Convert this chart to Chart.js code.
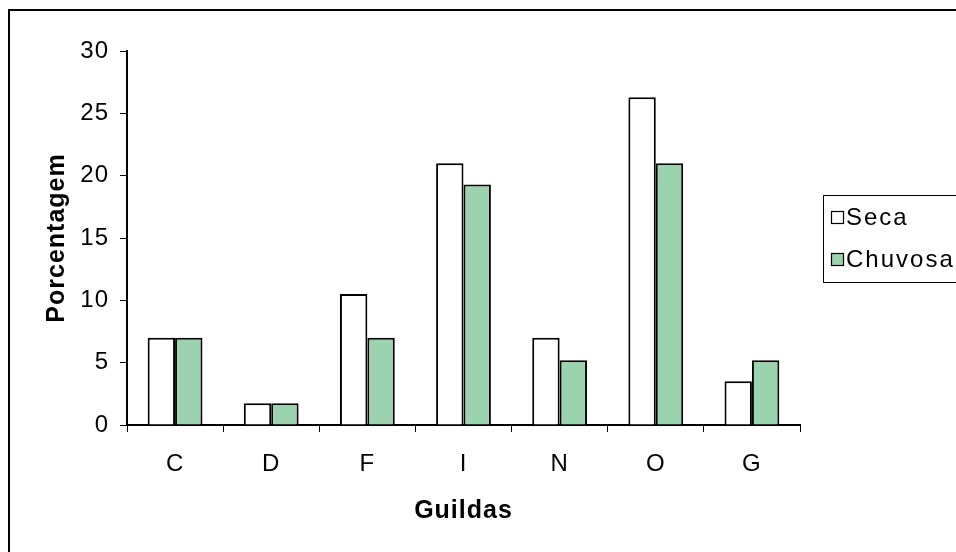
<!DOCTYPE html>
<html>
<head>
<meta charset="utf-8">
<script src="https://cdn.jsdelivr.net/npm/chart.js@4/dist/chart.umd.min.js"></script>
<style>
html,body{margin:0;padding:0;background:#fff;}
#wrap{width:956px;height:552px;position:relative;}
</style>
</head>
<body>
<div id="wrap"><canvas id="c" width="956" height="552"></canvas></div>
<script>
const categories = ['C', 'D', 'F', 'I', 'N', 'O', 'G'];
const seca = [7.0, 1.75, 10.5, 21.0, 7.0, 26.3, 3.5];
const chuvosa = [7.0, 1.75, 7.0, 19.3, 5.2, 21.0, 5.2];
const yTicks = [0, 5, 10, 15, 20, 25, 30];

const FONT = 'Liberation Sans, Arial, sans-serif';
const FS = 24;
const FT = 25;

const frame = {
  id: 'frame',
  beforeDraw(chart) {
    const ctx = chart.ctx;
    ctx.save();
    ctx.fillStyle = '#fff';
    ctx.fillRect(0, 0, chart.width, chart.height);
    ctx.strokeStyle = '#000';
    ctx.lineWidth = 2;
    ctx.strokeRect(9, 10, 980, 600);
    ctx.restore();
    try { ctx.letterSpacing = '1px'; } catch (e) {}
  }
};

const legendBox = {
  id: 'legendBox',
  afterDraw(chart) {
    const ctx = chart.ctx;
    ctx.save();
    try { ctx.letterSpacing = '2px'; } catch (e) {}
    ctx.strokeStyle = '#000';
    ctx.lineWidth = 1;
    ctx.strokeRect(823.5, 195.5, 200, 87);
    ctx.font = '24px ' + FONT;
    ctx.textBaseline = 'middle';
    ctx.textAlign = 'left';
    chart.data.datasets.forEach((ds, i) => {
      const cy = 217 + i * 42;
      ctx.fillStyle = ds.backgroundColor;
      ctx.fillRect(831, cy - 6, 12, 12);
      ctx.lineWidth = 1.2;
      ctx.strokeStyle = '#000';
      ctx.strokeRect(831.5, cy - 5.5, 12, 12);
      ctx.fillStyle = '#000';
      ctx.fillText(ds.label, 846, cy + 1);
    });
    ctx.restore();
  }
};

new Chart(document.getElementById('c'), {
  type: 'bar',
  data: {
    labels: categories,
    datasets: [
      { label: 'Seca', data: seca, backgroundColor: '#ffffff', borderColor: '#000', borderWidth: 2, borderSkipped: 'bottom' },
      { label: 'Chuvosa', data: chuvosa, backgroundColor: '#9BD3AE', borderColor: '#000', borderWidth: 2, borderSkipped: 'bottom' }
    ]
  },
  options: {
    responsive: false,
    animation: false,
    devicePixelRatio: 1,
    layout: { padding: { left: 0, top: 51, right: 156, bottom: 0 } },
    plugins: { legend: { display: false }, tooltip: { enabled: false } },
    datasets: { bar: { categoryPercentage: 0.57, barPercentage: 1.0 } },
    scales: {
      x: {
        grid: { display: true, drawOnChartArea: false, offset: true, color: '#000', tickLength: 7, tickWidth: 1 },
        border: { display: true, color: '#000', width: 2 },
        ticks: { color: '#000', font: { family: FONT, size: FS }, padding: 18 },
        title: { display: true, text: 'Guildas', color: '#000', font: { family: FONT, size: FT, weight: 'bold' }, padding: { top: 0, bottom: 26 } },
        afterFit(s) { s.height = 127; }
      },
      y: {
        min: 0, max: 30,
        afterBuildTicks(s) { s.ticks = yTicks.map(v => ({ value: v })); },
        grid: { display: true, drawOnChartArea: false, color: '#000', tickLength: 7, tickWidth: 1 },
        border: { display: true, color: '#000', width: 2 },
        ticks: { color: '#000', font: { family: FONT, size: FS }, padding: 11 },
        title: { display: true, text: 'Porcentagem', color: '#000', font: { family: FONT, size: FT, weight: 'bold' }, padding: { top: 42, bottom: 0 } },
        afterFit(s) { s.width = 127; }
      }
    }
  },
  plugins: [frame, legendBox]
});
</script>
</body>
</html>
